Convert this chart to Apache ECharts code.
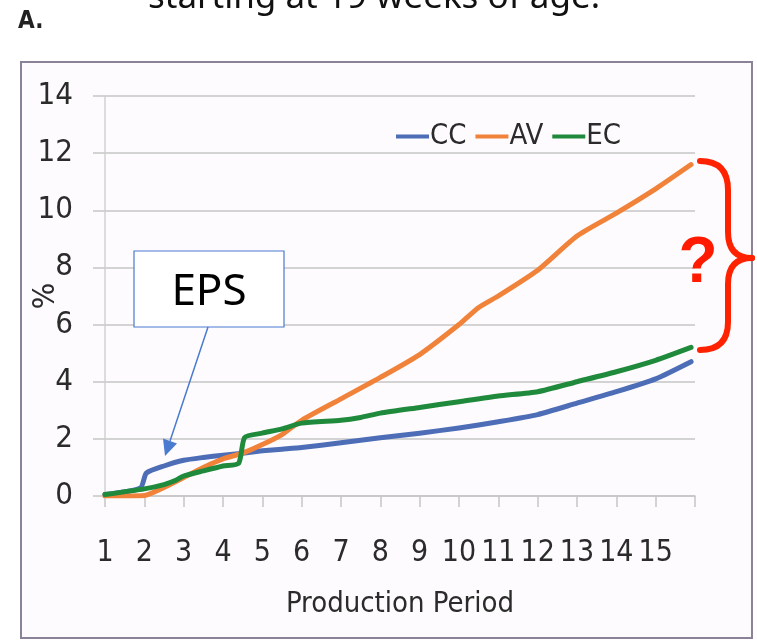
<!DOCTYPE html>
<html>
<head>
<meta charset="utf-8">
<script src="https://cdn.jsdelivr.net/npm/echarts@6/dist/echarts.min.js"></script>
<style>
    html, body { margin: 0; padding: 0; background: #ffffff; }
    #chart { width: 757px; height: 640px; }
</style>
</head>
<body>
<div id="chart"></div>
<script>
// series names
var seriesNames = ['CC', 'AV', 'EC'];

// CC (blue)
var ccX = [1, 1.9, 2.05, 2.5, 3, 3.5, 4, 4.5, 5, 5.5, 6, 7, 8, 9, 10, 11, 12, 13, 14, 15, 15.9];
var ccY = [0.05, 0.28, 0.8, 1.05, 1.25, 1.35, 1.43, 1.5, 1.58, 1.64, 1.7, 1.86, 2.04, 2.2, 2.38, 2.6, 2.85, 3.25, 3.65, 4.1, 4.7];

// AV (orange)
var avX = [1, 2, 2.5, 3, 3.5, 4, 4.5, 5, 5.5, 6, 7, 8, 9, 10, 10.5, 11, 12, 13, 14, 15, 15.9];
var avY = [0, 0.02, 0.3, 0.65, 1.0, 1.3, 1.5, 1.8, 2.15, 2.65, 3.4, 4.15, 4.95, 6.0, 6.6, 7.0, 7.9, 9.1, 9.9, 10.75, 11.6];

// EC (green)
var ecX = [1, 2, 2.5, 2.8, 3, 3.5, 4, 4.4, 4.55, 5, 5.5, 6, 7, 7.5, 8, 9, 10, 11, 12, 13, 14, 15, 15.9];
var ecY = [0.05, 0.25, 0.4, 0.55, 0.7, 0.88, 1.05, 1.15, 2.05, 2.2, 2.35, 2.55, 2.65, 2.75, 2.9, 3.1, 3.3, 3.5, 3.65, 4.0, 4.35, 4.75, 5.2];

// axis ticks
var yTicks = [0, 2, 4, 6, 8, 10, 12, 14];
var xLabels = ['1', '2', '3', '4', '5', '6', '7', '8', '9', '10', '11', '12', '13', '14', '15'];

var colors = ['#4d6db6', '#f0823a', '#1f8a3c'];

function pairs(xs, ys) {
    return xs.map(function(x, i) { return [x, ys[i]]; });
}

var axisFont = '"Liberation Sans Narrow", "DejaVu Sans Condensed", sans-serif';

// brace pieces (quadratic curves), annotation only
function braceCurve(x1, y1, cx, cy, x2, y2) {
    return { type: 'bezierCurve', z: 20,
        shape: { x1: x1, y1: y1, cpx1: cx, cpy1: cy, x2: x2, y2: y2 },
        style: { fill: null, stroke: '#ff2200', lineWidth: 6, lineCap: 'round' } };
}
function braceLine(x1, y1, x2, y2) {
    return { type: 'line', z: 20, shape: { x1: x1, y1: y1, x2: x2, y2: y2 },
        style: { stroke: '#ff2200', lineWidth: 6 } };
}

var chart = echarts.init(document.getElementById('chart'), null, { renderer: 'canvas' });

var option = {
    animation: false,
    backgroundColor: '#ffffff',
    color: colors,
    grid: { left: 105, right: 62, top: 96, bottom: 144, containLabel: false, outerBoundsMode: 'none' },
    legend: {
        data: seriesNames,
        left: 391,
        top: 117,
        itemWidth: 33,
        itemHeight: 4,
        itemGap: 9,
        icon: 'rect',
        textStyle: { fontFamily: axisFont, fontSize: 29, color: '#2b2b2b', padding: [0, 0, 0, -4] }
    },
    xAxis: {
        type: 'value',
        min: 1,
        max: 16,
        interval: 1,
        name: 'Production Period',
        nameLocation: 'middle',
        nameGap: 94,
        nameTextStyle: { fontFamily: axisFont, fontSize: 29, color: '#2b2b2b' },
        axisLine: { show: true, lineStyle: { color: '#c6c6c6', width: 1.5 } },
        axisTick: { show: true, length: 11, lineStyle: { color: '#c6c6c6', width: 1.5 } },
        splitLine: { show: false },
        axisLabel: {
            margin: 42,
            fontFamily: axisFont,
            fontSize: 30,
            color: '#2b2b2b',
            formatter: function(v) { return xLabels.indexOf(String(v)) >= 0 ? String(v) : ''; }
        }
    },
    yAxis: {
        type: 'value',
        min: yTicks[0],
        max: yTicks[yTicks.length - 1],
        interval: 2,
        name: '%',
        nameLocation: 'middle',
        nameGap: 44,
        nameRotate: 90,
        nameMoveOverlap: false,
        nameTextStyle: { fontFamily: axisFont, fontSize: 31, color: '#2b2b2b' },
        axisLine: { show: true, lineStyle: { color: '#d2d2d2', width: 1.5 } },
        axisTick: { show: true, length: 12, lineStyle: { color: '#c6c6c6', width: 1.5 } },
        splitLine: { show: true, lineStyle: { color: '#c6c6c6', width: 1.5 } },
        axisLabel: { margin: 32, fontFamily: axisFont, fontSize: 31, color: '#2b2b2b' }
    },
    series: [
        { name: 'CC', type: 'line', data: pairs(ccX, ccY), showSymbol: false, smooth: 0.2,
          lineStyle: { width: 5, cap: 'round', join: 'round' }, z: 2 },
        { name: 'AV', type: 'line', data: pairs(avX, avY), showSymbol: false, smooth: 0.2,
          lineStyle: { width: 5, cap: 'round', join: 'round' }, z: 3 },
        { name: 'EC', type: 'line', data: pairs(ecX, ecY), showSymbol: false, smooth: 0.2,
          lineStyle: { width: 5, cap: 'round', join: 'round' }, z: 4 }
    ],
    graphic: [
        // outer frame
        { type: 'rect', z: -10, shape: { x: 21, y: 62, width: 731, height: 576 },
          style: { fill: '#fdfbfd', stroke: '#8b8299', lineWidth: 2 } },
        // cut-off title
        { type: 'text', x: 148, y: -19, z: 10,
          style: { text: 'starting at 19 weeks of age.', font: '35px "Noto Sans", sans-serif', fill: '#111111' } },
        // panel letter
        { type: 'text', x: 18, y: 10, z: 10,
          style: { text: 'A.', font: 'bold 24px ' + axisFont, fill: '#222222' } },
        // EPS box
        { type: 'rect', z: 20, shape: { x: 134, y: 251, width: 150, height: 76 },
          style: { fill: '#ffffff', stroke: '#4a7bd0', lineWidth: 1.2 } },
        { type: 'text', z: 21, x: 209, y: 292,
          style: { text: 'EPS', font: '44px "Noto Sans", sans-serif', fill: '#000000', align: 'center', verticalAlign: 'middle' } },
        // arrow
        { type: 'line', z: 20, shape: { x1: 208, y1: 327, x2: 170, y2: 441 },
          style: { stroke: '#4a7bd0', lineWidth: 1.5 } },
        { type: 'polygon', z: 20, shape: { points: [[165, 456], [163, 438.5], [177, 443.5]] },
          style: { fill: '#4a7bd0' } },
        // red brace
        braceCurve(700, 161, 728, 161, 728, 190),
        braceLine(728, 190, 728, 232),
        braceCurve(728, 232, 728, 258, 752, 258),
        braceCurve(752, 258, 728, 258, 728, 284),
        braceLine(728, 284, 728, 322),
        braceCurve(728, 322, 728, 350, 700, 350),
        { type: 'text', z: 21, x: 698, y: 264,
          style: { text: '?', font: 'bold 64px "Liberation Sans", sans-serif', fill: '#ff1a00', align: 'center', verticalAlign: 'middle' } }
    ]
};

chart.setOption(option);
</script>
</body>
</html>
